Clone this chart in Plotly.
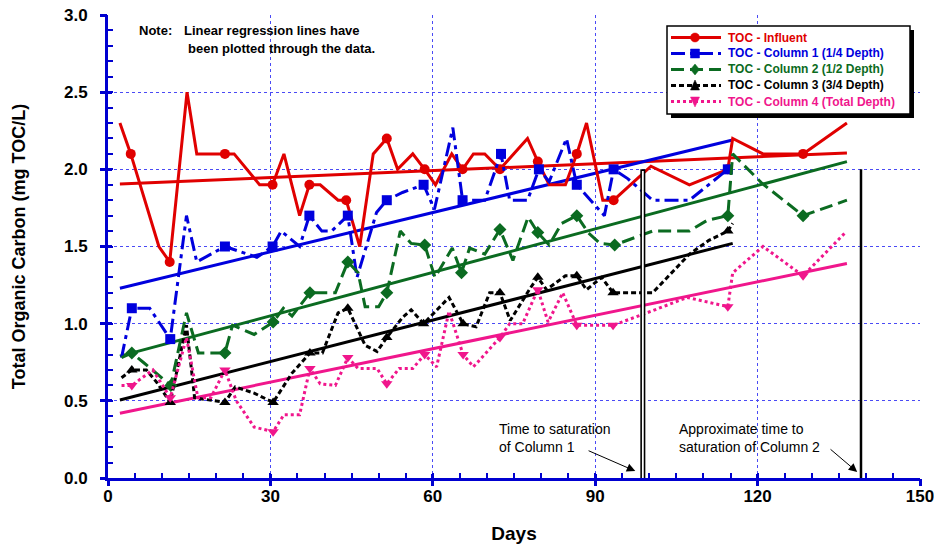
import plotly.graph_objects as go

# ---------------- data ----------------
inf_days = [2.2, 4.2, 9.4, 11.4, 14.6, 16.4, 21.6, 23.3, 28.0, 30.4, 32.5, 35.4, 37.2, 39.2,
            42.5, 44.0, 46.5, 49.0, 51.5, 53.5, 56.3, 58.5, 60.5, 63.5, 65.5, 67.5, 69.6,
            72.4, 77.5, 79.4, 81.5, 84.5, 86.6, 88.4, 91.4, 93.4, 100.3, 107.4, 114.5,
            115.4, 121.0, 128.4, 136.5]
inf_vals = [2.3, 2.1, 1.5, 1.4, 2.5, 2.1, 2.1, 2.1, 1.9, 1.9, 2.1, 1.7, 1.9, 1.9,
            1.8, 1.8, 1.5, 2.1, 2.2, 2.0, 2.1, 2.0, 1.9, 2.1, 2.0, 2.1, 2.1,
            2.0, 2.2, 2.05, 1.9, 1.9, 2.1, 2.3, 1.8, 1.8, 2.02, 1.9, 2.0,
            2.2, 2.1, 2.1, 2.3]

c1_days = [2.5, 4.4, 7.7, 11.5, 14.5, 16.4, 21.6, 27.5, 30.4, 32.0, 35.4, 37.2, 39.5, 41.3,
           44.3, 46.0, 49.6, 51.5, 54.4, 58.3, 60.3, 63.7, 65.5, 69.6, 72.6, 74.2, 77.5,
           79.6, 81.5, 84.7, 86.6, 91.7, 93.4, 96.0, 100.6, 107.4, 114.5]
c1_vals = [0.78, 1.1, 1.1, 0.9, 1.7, 1.4, 1.5, 1.43, 1.5, 1.6, 1.5, 1.7, 1.6, 1.6,
           1.7, 1.3, 1.72, 1.8, 1.85, 1.9, 1.74, 2.27, 1.8, 1.8, 2.1, 1.8, 1.8,
           2.0, 1.92, 2.2, 1.9, 1.7, 2.0, 1.94, 1.8, 1.8, 2.0]

c2_days = [2.5, 4.4, 6.5, 11.6, 14.5, 16.7, 21.6, 23.0, 27.0, 30.5, 32.4, 34.0, 37.3, 42.0,
           44.3, 46.2, 47.5, 50.0, 51.5, 54.0, 56.0, 58.5, 60.4, 63.6, 65.3, 66.8, 69.6,
           72.4, 74.8, 77.6, 79.4, 81.5, 83.8, 86.6, 88.7, 90.9, 93.6, 98.2, 100.6, 107.4,
           110.7, 114.5, 115.4, 120.8, 128.4, 136.5]
c2_vals = [0.78, 0.81, 0.75, 0.60, 1.07, 0.81, 0.81, 0.99, 0.93, 1.01, 1.1, 1.05, 1.2, 1.2,
           1.4, 1.33, 1.11, 1.11, 1.2, 1.6, 1.52, 1.51, 1.3, 1.49, 1.33, 1.49, 1.45,
           1.61, 1.41, 1.69, 1.59, 1.51, 1.65, 1.70, 1.59, 1.52, 1.51, 1.57, 1.6, 1.6,
           1.67, 1.70, 2.1, 1.91, 1.70, 1.8]

c3_days = [2.5, 4.4, 7.1, 9.0, 11.5, 14.5, 16.0, 21.6, 23.5, 27.0, 30.5, 34.0, 37.3, 39.6,
           42.5, 44.3, 47.5, 49.7, 51.5, 54.4, 56.0, 58.3, 63.0, 65.6, 68.0, 70.5, 72.4,
           74.3, 78.0, 79.4, 81.0, 84.5, 86.6, 88.4, 91.2, 93.3, 98.8, 100.6, 107.4, 111.0,
           114.5, 115.4]
c3_vals = [0.65, 0.70, 0.70, 0.62, 0.49, 0.99, 0.52, 0.49, 0.59, 0.55, 0.49, 0.68, 0.81, 0.81,
           1.07, 1.1, 0.86, 0.82, 0.91, 1.04, 1.09, 1.0, 1.17, 1.0, 0.98, 1.2, 1.2,
           1.02, 1.23, 1.3, 1.22, 1.31, 1.31, 1.22, 1.3, 1.2, 1.2, 1.2, 1.45, 1.54,
           1.6, 1.65]

c4_days = [2.5, 4.4, 8.3, 11.5, 14.5, 16.6, 19.0, 21.6, 23.7, 27.0, 30.5, 32.5, 35.4, 37.3,
           39.2, 42.0, 44.3, 46.2, 49.7, 51.5, 53.8, 56.3, 58.5, 60.7, 63.0, 65.6, 67.5,
           72.4, 74.2, 76.6, 79.4, 81.3, 84.0, 86.6, 93.3, 95.8, 98.8, 107.0, 114.5, 115.4,
           121.0, 128.4, 136.2]
c4_vals = [0.6, 0.6, 0.70, 0.52, 0.91, 0.52, 0.52, 0.70, 0.5, 0.33, 0.30, 0.41, 0.41, 0.71,
           0.61, 0.6, 0.78, 0.71, 0.71, 0.61, 0.71, 0.71, 0.8, 0.72, 1.08, 0.8, 0.72,
           0.91, 1.0, 1.0, 1.22, 1.01, 1.2, 0.99, 0.99, 1.02, 1.06, 1.17, 1.11, 1.33,
           1.5, 1.31, 1.59]

# linear-regression line end points (as drawn in the reference)
inf_reg_days, inf_reg_vals = [2.2, 136.5], [1.905, 2.106]
c1_reg_days, c1_reg_vals = [2.2, 115.4], [1.23, 2.19]
c2_reg_days, c2_reg_vals = [2.2, 136.5], [0.79, 2.05]
c3_reg_days, c3_reg_vals = [2.2, 115.4], [0.505, 1.52]
c4_reg_days, c4_reg_vals = [2.2, 136.5], [0.42, 1.39]

# days on which sample symbols are shown
MARK_DAYS = [4.4, 11.5, 21.6, 30.5, 37.3, 44.3, 51.5, 58.5, 65.6, 72.4, 79.4, 86.6, 93.4, 114.5, 128.4]

# saturation markers
SAT_C1_DAY = 98.8
SAT_C2_DAY = 139.1
SAT_TOP = 2.0

x_ticks = [0, 30, 60, 90, 120, 150]
y_ticks = [0.0, 0.5, 1.0, 1.5, 2.0, 2.5, 3.0]

# ---------------- styling ----------------
RED = "#E00000"
BLUE = "#0000DD"
GREEN = "#0B6B21"
BLACK = "#000000"
PINK = "#F0168C"
AXIS_BLUE = "#0000D0"
GRID_BLUE = "#4A4AF5"
FONT = "Arial, Liberation Sans, sans-serif"

W, H = 934, 544
ML, MR, MT, MB = 108, 14, 15, 66
PW, PH = W - ML - MR, H - MT - MB


def px_x(px):
    return (px - ML) / PW


def px_y(py):
    return (H - MB - py) / PH


series = [
    dict(name="TOC - Influent", d=inf_days, v=inf_vals, rd=inf_reg_days, rv=inf_reg_vals,
         color=RED, dash="solid", symbol="circle"),
    dict(name="TOC - Column 1 (1/4 Depth)", d=c1_days, v=c1_vals, rd=c1_reg_days, rv=c1_reg_vals,
         color=BLUE, dash="14px,5px,4px,5px", symbol="square"),
    dict(name="TOC - Column 2 (1/2 Depth)", d=c2_days, v=c2_vals, rd=c2_reg_days, rv=c2_reg_vals,
         color=GREEN, dash="13px,6px", symbol="diamond"),
    dict(name="TOC - Column 3 (3/4 Depth)", d=c3_days, v=c3_vals, rd=c3_reg_days, rv=c3_reg_vals,
         color=BLACK, dash="5px,3px", symbol="triangle-up"),
    dict(name="TOC - Column 4 (Total Depth)", d=c4_days, v=c4_vals, rd=c4_reg_days, rv=c4_reg_vals,
         color=PINK, dash="3px,3px", symbol="triangle-down"),
]
MSIZE = 10

fig = go.Figure()

for s in series:
    fig.add_trace(go.Scatter(x=s["rd"], y=s["rv"], mode="lines",
                             line=dict(color=s["color"], width=3), showlegend=False,
                             hoverinfo="skip"))
for s in series:
    fig.add_trace(go.Scatter(x=s["d"], y=s["v"], mode="lines", name=s["name"],
                             line=dict(color=s["color"], width=3, dash=s["dash"]),
                             showlegend=False))
    mx, my = [], []
    for m in MARK_DAYS:
        best = min(range(len(s["d"])), key=lambda i: abs(s["d"][i] - m))
        if abs(s["d"][best] - m) < 0.8:
            mx.append(s["d"][best])
            my.append(s["v"][best])
    fig.add_trace(go.Scatter(x=mx, y=my, mode="markers",
                             marker=dict(color=s["color"], symbol=s["symbol"], size=MSIZE),
                             showlegend=False))

# saturation lines
fig.add_trace(go.Scatter(x=[SAT_C1_DAY, SAT_C1_DAY], y=[0, SAT_TOP], mode="lines",
                         line=dict(color="black", width=5), showlegend=False, hoverinfo="skip"))
fig.add_trace(go.Scatter(x=[SAT_C1_DAY, SAT_C1_DAY], y=[0, SAT_TOP - 0.01], mode="lines",
                         line=dict(color="white", width=1.8), showlegend=False, hoverinfo="skip"))
fig.add_trace(go.Scatter(x=[SAT_C2_DAY, SAT_C2_DAY], y=[0, SAT_TOP], mode="lines",
                         line=dict(color="black", width=2.5), showlegend=False, hoverinfo="skip"))

# overlay axes carry the outer half of the major ticks
fig.add_trace(go.Scatter(x=[None], y=[None], xaxis="x2", yaxis="y2", showlegend=False))

tickfont = dict(size=17, family=FONT, weight="bold", color="black")
fig.update_layout(
    width=W, height=H,
    margin=dict(l=ML, r=MR, t=MT, b=MB),
    paper_bgcolor="white", plot_bgcolor="white",
    font=dict(family=FONT, color="black"),
    showlegend=False,
    xaxis=dict(range=[0, 150], tickvals=x_ticks, ticktext=[str(t) for t in x_ticks],
               automargin=False, ticklabeloverflow="allow",
               showline=True, linecolor=AXIS_BLUE, linewidth=3,
               ticks="inside", ticklen=4, tickwidth=3, tickcolor=AXIS_BLUE,
               minor=dict(ticks="inside", dtick=5, ticklen=5, tickwidth=2, tickcolor=AXIS_BLUE,
                          showgrid=False),
               showgrid=True, gridcolor=GRID_BLUE, griddash="dot", gridwidth=1,
               zeroline=False, ticklabelstandoff=1,
               tickfont=tickfont,
               title=dict(text="Days", font=dict(size=19, family=FONT, weight="bold"), standoff=23)),
    yaxis=dict(range=[0, 3], tickvals=y_ticks, ticktext=[f"{t:.1f}" for t in y_ticks],
               automargin=False, ticklabeloverflow="allow",
               showline=True, linecolor=AXIS_BLUE, linewidth=3,
               ticks="inside", ticklen=4, tickwidth=3, tickcolor=AXIS_BLUE,
               minor=dict(ticks="inside", dtick=0.1, ticklen=5, tickwidth=2, tickcolor=AXIS_BLUE,
                          showgrid=False),
               showgrid=True, gridcolor=GRID_BLUE, griddash="dot", gridwidth=1,
               zeroline=False, ticklabelstandoff=14,
               tickfont=tickfont,
               title=dict(text="Total Organic Carbon (mg TOC/L)",
                          font=dict(size=18, family=FONT, weight="bold"), standoff=34)),
    xaxis2=dict(range=[0, 150], overlaying="x", anchor="y2", tickvals=x_ticks,
                showticklabels=False, ticks="outside", ticklen=7, tickwidth=3,
                tickcolor=AXIS_BLUE, showgrid=False, zeroline=False, showline=False),
    yaxis2=dict(range=[0, 3], overlaying="y", anchor="x2", tickvals=y_ticks,
                showticklabels=False, ticks="outside", ticklen=7, tickwidth=3,
                tickcolor=AXIS_BLUE, showgrid=False, zeroline=False, showline=False),
)

# ---------------- hand-built legend (box with drop shadow) ----------------
LG_L, LG_R, LG_T, LG_B = 667, 910, 26, 114
SHADOW = 4
fig.add_shape(type="rect", xref="paper", yref="paper", layer="above",
              x0=px_x(LG_L + SHADOW), x1=px_x(LG_R + SHADOW),
              y0=px_y(LG_B + SHADOW), y1=px_y(LG_T + SHADOW),
              fillcolor="black", line=dict(width=0))
fig.add_shape(type="rect", xref="paper", yref="paper", layer="above",
              x0=px_x(LG_L), x1=px_x(LG_R), y0=px_y(LG_B), y1=px_y(LG_T),
              fillcolor="white", line=dict(color="black", width=1.5))

ROW0, ROW_STEP = 37.5, 16.0
LINE_X0, LINE_X1, MARK_X, TEXT_X = 671, 721, 695, 726
hm = 4.5  # half marker size in px
for i, s in enumerate(series):
    cy = ROW0 + i * ROW_STEP
    fig.add_shape(type="line", xref="paper", yref="paper", layer="above",
                  x0=px_x(LINE_X0), x1=px_x(LINE_X1), y0=px_y(cy), y1=px_y(cy),
                  line=dict(color=s["color"], width=3, dash=s["dash"]))
    sym = s["symbol"]
    mk = dict(xref="paper", yref="paper", layer="above", fillcolor=s["color"],
              line=dict(color=s["color"], width=0.5))
    if sym == "circle":
        fig.add_shape(type="circle", x0=px_x(MARK_X - hm), x1=px_x(MARK_X + hm),
                      y0=px_y(cy + hm), y1=px_y(cy - hm), **mk)
    elif sym == "square":
        fig.add_shape(type="rect", x0=px_x(MARK_X - hm), x1=px_x(MARK_X + hm),
                      y0=px_y(cy + hm), y1=px_y(cy - hm), **mk)
    else:
        if sym == "diamond":
            pts = [(MARK_X, cy - hm - 1), (MARK_X + hm, cy), (MARK_X, cy + hm + 1), (MARK_X - hm, cy)]
        elif sym == "triangle-up":
            pts = [(MARK_X, cy - hm - 1), (MARK_X + hm, cy + hm), (MARK_X - hm, cy + hm)]
        else:
            pts = [(MARK_X, cy + hm + 1), (MARK_X + hm, cy - hm), (MARK_X - hm, cy - hm)]
        path = "M " + " L ".join(f"{px_x(a):.5f},{px_y(b):.5f}" for a, b in pts) + " Z"
        fig.add_shape(type="path", path=path, **mk)
    fig.add_annotation(xref="paper", yref="paper", x=px_x(TEXT_X), y=px_y(cy),
                       xanchor="left", yanchor="middle", showarrow=False,
                       text=f"<b>{s['name']}</b>",
                       font=dict(size=12, family=FONT, color=s["color"]))

# ---------------- notes ----------------
NOTE_FONT = dict(size=13, family=FONT, color="black")
fig.add_annotation(xref="paper", yref="paper", x=px_x(137), y=px_y(31),
                   xanchor="left", yanchor="middle", showarrow=False,
                   text="<b>Note:</b>", font=NOTE_FONT)
fig.add_annotation(xref="paper", yref="paper", x=px_x(182), y=px_y(31),
                   xanchor="left", yanchor="middle", showarrow=False,
                   text="<b>Linear regression lines have</b>", font=NOTE_FONT)
fig.add_annotation(xref="paper", yref="paper", x=px_x(186), y=px_y(49),
                   xanchor="left", yanchor="middle", showarrow=False,
                   text="<b>been plotted through the data.</b>", font=NOTE_FONT)

fig.add_annotation(xref="paper", yref="paper", x=px_x(497), y=px_y(438),
                   xanchor="left", yanchor="middle", align="left", showarrow=False,
                   text="Time to saturation<br>of Column 1",
                   font=dict(size=14, family=FONT, color="black"))
fig.add_annotation(xref="paper", yref="paper", x=px_x(677), y=px_y(438),
                   xanchor="left", yanchor="middle", align="left", showarrow=False,
                   text="Approximate time to<br>saturation of Column 2",
                   font=dict(size=14, family=FONT, color="black"))

fig.add_annotation(x=97.4, y=0.045, ax=88.5, ay=0.181, xref="x", yref="y", axref="x", ayref="y",
                   showarrow=True, arrowhead=2, arrowsize=1.7, arrowwidth=1, arrowcolor="black", text="")
fig.add_annotation(x=138.4, y=0.039, ax=133.2, ay=0.194, xref="x", yref="y", axref="x", ayref="y",
                   showarrow=True, arrowhead=2, arrowsize=1.7, arrowwidth=1, arrowcolor="black", text="")

fig.write_html("out.html")
